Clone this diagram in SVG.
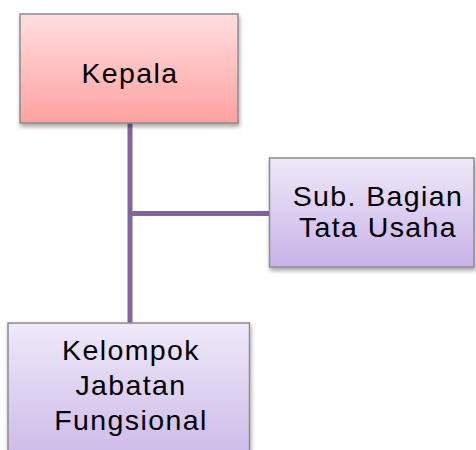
<svg xmlns="http://www.w3.org/2000/svg" width="476" height="450" viewBox="0 0 476 450">
<style>
.box{stroke:#8c8c8c;stroke-width:1.5}
.t{font-family:"Liberation Sans",Arial,sans-serif;font-size:28.5px;letter-spacing:1.4px;fill:#000;text-anchor:middle}
.c{stroke:#8064a2;stroke-width:5;fill:none}
</style>
<defs>
<linearGradient id="gp" x1="0" y1="0" x2="0" y2="1"><stop offset="0" stop-color="#ffdede"/><stop offset="1" stop-color="#ffa1a1"/></linearGradient>
<linearGradient id="gv" x1="0" y1="0" x2="0" y2="1"><stop offset="0" stop-color="#efe9f9"/><stop offset="1" stop-color="#c7b2e7"/></linearGradient>
<linearGradient id="gv2" x1="0" y1="0" x2="0" y2="1"><stop offset="0" stop-color="#efe9f9"/><stop offset="1" stop-color="#cbb8e8"/></linearGradient>
<filter id="sh" x="-10%" y="-10%" width="120%" height="130%"><feGaussianBlur in="SourceAlpha" stdDeviation="2"/><feOffset dx="1" dy="3"/><feComponentTransfer><feFuncA type="linear" slope="0.35"/></feComponentTransfer><feMerge><feMergeNode/><feMergeNode in="SourceGraphic"/></feMerge></filter>
</defs>
<g id="connectors">
<line class="c" x1="130" y1="123" x2="130" y2="323"/>
<line class="c" x1="130" y1="213.5" x2="270" y2="213.5"/>
</g>
<g id="kepala">
<rect class="box" x="20" y="14" width="218" height="109" fill="url(#gp)" filter="url(#sh)"/>
<text class="t" x="130" y="82.5">Kepala</text>
</g>
<g id="subbagian">
<rect class="box" x="269.5" y="158" width="204.5" height="109" fill="url(#gv)" filter="url(#sh)"/>
<text class="t" x="378" y="205.5">Sub. Bagian</text>
<text class="t" x="378" y="237">Tata Usaha</text>
</g>
<g id="kelompok">
<rect class="box" x="8" y="323" width="241.5" height="140" fill="url(#gv2)" filter="url(#sh)"/>
<text class="t" x="131" y="360">Kelompok</text>
<text class="t" x="131" y="395">Jabatan</text>
<text class="t" x="131" y="430">Fungsional</text>
</g>
</svg>
